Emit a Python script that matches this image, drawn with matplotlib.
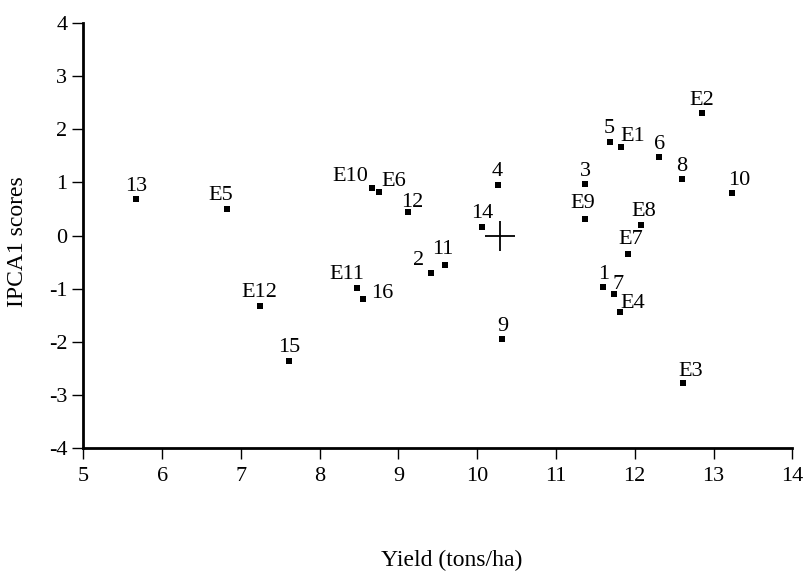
import matplotlib
matplotlib.use("Agg")
import matplotlib.pyplot as plt

# genotypes (numbers) and environments (E1..E12): yield vs IPCA1 score
names = ["13", "E5", "E12", "15", "E11", "16", "E10", "E6", "12", "4",
         "14", "2", "11", "3", "E9", "5", "E1", "6", "8", "E2",
         "10", "E8", "E7", "1", "7", "E4", "9", "E3"]
yield_tons = [5.67, 6.82, 7.24, 7.61, 8.47, 8.55, 8.66, 8.75, 9.12, 10.26,
              10.06, 9.41, 9.59, 11.37, 11.37, 11.68, 11.83, 12.31, 12.60, 12.85,
              13.23, 12.08, 11.92, 11.60, 11.74, 11.81, 10.32, 12.61]
ipca1 = [0.68, 0.51, -1.32, -2.35, -0.98, -1.20, 0.89, 0.82, 0.44, 0.96,
         0.17, -0.70, -0.55, 0.97, 0.32, 1.77, 1.66, 1.47, 1.06, 2.30,
         0.80, 0.20, -0.34, -0.97, -1.10, -1.44, -1.95, -2.78]
grand_mean = (10.29, 0.0)

# label offsets in pixels (dx, dy of text centre), default sits just above the point
label_offsets = {"E5": (-6, 13), "E11": (-10, 13), "16": (19, 6), "E10": (-21, 12),
                 "E6": (15, 11), "12": (4, 10), "2": (-12, 12), "11": (-2, 15),
                 "E9": (-2, 15), "E1": (11, 11), "10": (8, 13), "E8": (3, 13),
                 "E7": (2, 14), "7": (4, 10), "E4": (13, 9), "E3": (8, 12)}

plt.rcParams["font.family"] = ["Liberation Serif", "DejaVu Serif"]
plt.rcParams["axes.unicode_minus"] = False

fig = plt.figure(figsize=(8.05, 5.74), dpi=100)
ax = fig.add_axes([0.1035, 0.219, 0.8807, 0.741])

ax.scatter(yield_tons, ipca1, marker="s", s=20, color="black", linewidths=0, zorder=3)
ax.plot(*grand_mean, marker="+", markersize=22, markeredgewidth=1.3, color="black")

for name, x, y in zip(names, yield_tons, ipca1):
    dx, dy = label_offsets.get(name, (0, 13))
    ax.annotate(name, (x, y), xytext=(dx, dy), textcoords="offset pixels",
                ha="center", va="center", fontsize=16)

ax.set_xlim(5, 14)
ax.set_ylim(-4, 4)
ax.set_xticks(range(5, 15))
ax.set_yticks(range(-4, 5))
ax.tick_params(labelsize=16, direction="out", length=8, width=1, pad=3.5)
ax.tick_params(axis="x", pad=5.5)

for side in ["top", "right"]:
    ax.spines[side].set_visible(False)
for side in ["left", "bottom"]:
    ax.spines[side].set_linewidth(2)

ax.set_xlabel("Yield (tons/ha)", fontsize=17)
ax.xaxis.set_label_coords(0.52, -0.24)
ax.set_ylabel("IPCA1 scores", fontsize=17)
ax.yaxis.set_label_coords(-0.078, 0.485)

fig.savefig("out.png", dpi=100)
